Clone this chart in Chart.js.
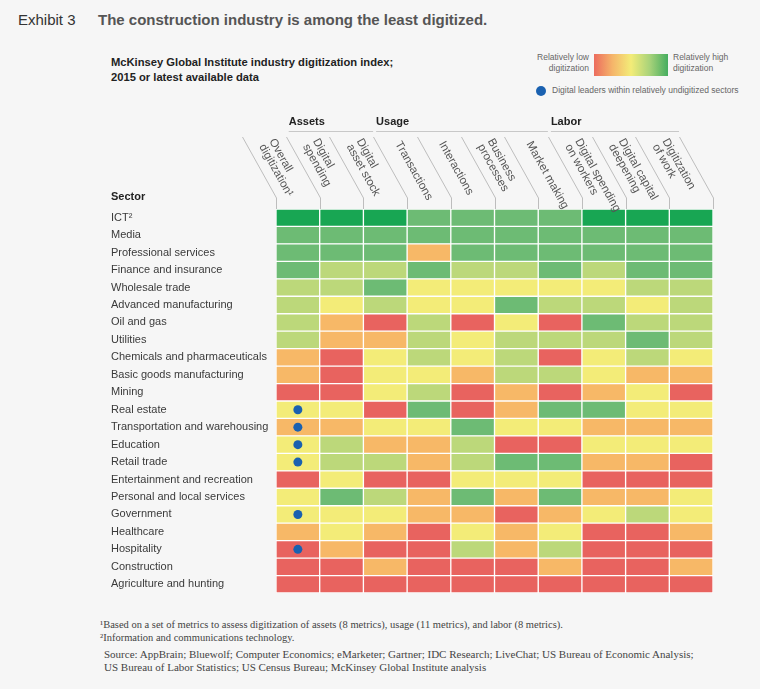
<!DOCTYPE html>
<html>
<head>
<meta charset="utf-8">
<script src="https://cdn.jsdelivr.net/npm/chart.js@4.4.1/dist/chart.umd.min.js"></script>
<style>
  html, body { margin: 0; padding: 0; }
  body { width: 760px; height: 689px; background: #f6f6f6; position: relative; overflow: hidden;
         font-family: "Liberation Sans", Arial, sans-serif; color: #333; }
  .abs { position: absolute; white-space: nowrap; }
  #exhibit { left: 18px; top: 11px; font-size: 15px; color: #333; }
  #titulo { left: 98px; top: 11px; font-size: 15px; font-weight: bold; color: #555; }
  #sub { left: 111px; top: 55px; font-size: 11.2px; font-weight: bold; line-height: 15px; color: #222; }
  .leg { font-size: 8.5px; color: #666; line-height: 11px; }
  #legLow { right: 171px; top: 52px; text-align: right; }
  #legHigh { left: 673px; top: 52px; }
  #grad { left: 594px; top: 54px; width: 74px; height: 22px;
          background: linear-gradient(to right, #ec6c5e, #f5b56a 25%, #f3ec78 50%, #a9d37a 75%, #45ad5f); }
  #dotLeg { left: 536px; top: 86px; width: 10px; height: 10px; border-radius: 50%; background: #1a61b0; }
  #dotTxt { left: 552px; top: 85px; }
  .foot { font-family: "Liberation Serif", "DejaVu Serif", serif; color: #444; line-height: 13px; }
  #notas { left: 100px; top: 618px; font-size: 10.5px; }
  #fuente { left: 104px; top: 648px; font-size: 11px; }
  #grafico { position: absolute; left: 0; top: 0; }
</style>
</head>
<body>
<div class="abs" id="exhibit">Exhibit 3</div>
<div class="abs" id="titulo">The construction industry is among the least digitized.</div>
<div class="abs" id="sub">McKinsey Global Institute industry digitization index;<br>2015 or latest available data</div>
<div class="abs leg" id="legLow">Relatively low<br>digitization</div>
<div class="abs" id="grad"></div>
<div class="abs leg" id="legHigh">Relatively high<br>digitization</div>
<div class="abs" id="dotLeg"></div>
<div class="abs leg" id="dotTxt">Digital leaders within relatively undigitized sectors</div>
<div class="abs foot" id="notas">¹Based on a set of metrics to assess digitization of assets (8 metrics), usage (11 metrics), and labor (8 metrics).<br>²Information and communications technology.</div>
<div class="abs foot" id="fuente">Source: AppBrain; Bluewolf; Computer Economics; eMarketer; Gartner; IDC Research; LiveChat; US Bureau of Economic Analysis;<br>US Bureau of Labor Statistics; US Census Bureau; McKinsey Global Institute analysis</div>
<canvas id="grafico" width="760" height="689"></canvas>

<script>
// Sectors (rows, top to bottom)
const sectors = [
  'ICT²', 'Media', 'Professional services', 'Finance and insurance', 'Wholesale trade',
  'Advanced manufacturing', 'Oil and gas', 'Utilities', 'Chemicals and pharmaceuticals',
  'Basic goods manufacturing', 'Mining', 'Real estate', 'Transportation and warehousing',
  'Education', 'Retail trade', 'Entertainment and recreation', 'Personal and local services',
  'Government', 'Healthcare', 'Hospitality', 'Construction', 'Agriculture and hunting'
];

// Metric columns (slanted headers, one entry per text line)
const columnLabels = [
  ['Overall', 'digitization¹'], ['Digital', 'spending'], ['Digital', 'asset stock'],
  ['Transactions'], ['Interactions'], ['Business', 'processes'], ['Market making'],
  ['Digital spending', 'on workers'], ['Digital capital', 'deepening'], ['Digitization', 'of work']
];

// Column groups
const groupNames = ['Assets', 'Usage', 'Labor'];
const groupStart = [1, 3, 7];
const groupEnd = [3, 7, 10];

// Digitization level per cell: 0 = relatively low ... 5 = relatively high
const scores = [
  [5, 5, 5, 4, 4, 4, 4, 5, 5, 5],
  [4, 4, 4, 4, 4, 4, 4, 4, 4, 4],
  [4, 4, 4, 1, 4, 4, 4, 4, 4, 4],
  [4, 3, 3, 4, 3, 3, 4, 3, 4, 4],
  [3, 3, 4, 2, 2, 2, 2, 2, 3, 3],
  [3, 2, 3, 2, 2, 4, 3, 3, 2, 3],
  [3, 1, 0, 3, 0, 2, 0, 4, 3, 3],
  [3, 1, 1, 3, 2, 3, 3, 3, 4, 3],
  [1, 0, 2, 3, 2, 3, 0, 2, 3, 2],
  [1, 0, 2, 2, 1, 3, 3, 2, 1, 1],
  [0, 0, 2, 3, 0, 1, 0, 1, 2, 0],
  [2, 2, 0, 4, 0, 1, 4, 4, 2, 2],
  [1, 1, 2, 2, 4, 2, 2, 1, 1, 1],
  [2, 3, 1, 1, 3, 0, 0, 2, 2, 2],
  [2, 3, 3, 1, 3, 4, 4, 1, 1, 0],
  [0, 2, 0, 0, 2, 2, 2, 0, 0, 0],
  [2, 4, 3, 1, 4, 1, 4, 1, 1, 2],
  [2, 2, 2, 1, 1, 0, 1, 2, 3, 2],
  [1, 2, 1, 0, 2, 1, 2, 0, 0, 1],
  [0, 1, 0, 0, 3, 1, 3, 0, 0, 0],
  [0, 0, 1, 0, 0, 0, 1, 0, 0, 1],
  [0, 0, 0, 0, 0, 0, 0, 0, 0, 0]
];

// Sectors marked with a blue dot
const digitalLeaders = ['Real estate', 'Transportation and warehousing', 'Education',
  'Retail trade', 'Government', 'Hospitality'];

const levelColors = ['#e8635f', '#f7b867', '#f3ec78', '#bcd87a', '#6dbb74', '#18a653'];

const shift = 34;     // horizontal run of the slanted header lines
const headerTop = 137;

// Headers, group labels and dots, placed with the chart scales
const cabeceras = {
  id: 'cabeceras',
  afterDraw(chart) {
    const { ctx, chartArea, scales: { x, y } } = chart;
    const slantBottom = chartArea.top - 11;
    const angle = Math.atan2(slantBottom - headerTop, shift);
    ctx.save();

    // slanted separators
    ctx.strokeStyle = '#bdbdbd';
    ctx.lineWidth = 1;
    for (let k = 0; k <= columnLabels.length; k++) {
      const bx = Math.round(x.getPixelForValue(k)) + 0.5;
      ctx.beginPath();
      ctx.moveTo(bx - shift, headerTop);
      ctx.lineTo(bx, slantBottom);
      ctx.lineTo(bx, chartArea.top);
      ctx.stroke();
    }

    // column labels
    ctx.fillStyle = '#555';
    ctx.font = '11.5px "Liberation Sans", Arial, sans-serif';
    ctx.textAlign = 'left';
    ctx.textBaseline = 'middle';
    columnLabels.forEach((lines, k) => {
      const cx = (x.getPixelForValue(k) + x.getPixelForValue(k + 1)) / 2 - shift;
      ctx.save();
      ctx.translate(cx, headerTop);
      ctx.rotate(angle);
      lines.forEach((t, i) => ctx.fillText(t, 6, (i - (lines.length - 1) / 2) * 11.5));
      ctx.restore();
    });

    // group labels
    ctx.font = 'bold 11px "Liberation Sans", Arial, sans-serif';
    ctx.fillStyle = '#222';
    ctx.strokeStyle = '#c8c8c8';
    groupNames.forEach((g, i) => {
      const x0 = x.getPixelForValue(groupStart[i]) - shift + 3;
      const x1 = x.getPixelForValue(groupEnd[i]) - shift;
      ctx.fillText(g, x0, 122);
      ctx.beginPath();
      ctx.moveTo(x0, 131.5);
      ctx.lineTo(x1, 131.5);
      ctx.stroke();
    });

    // row header
    ctx.fillText('Sector', y.left, chartArea.top - 12);

    // digital leader dots
    ctx.fillStyle = '#1a61b0';
    digitalLeaders.forEach(s => {
      ctx.beginPath();
      ctx.arc(x.getPixelForValue(0.5), y.getPixelForValue(sectors.indexOf(s)), 4.5, 0, Math.PI * 2);
      ctx.fill();
    });
    ctx.restore();
  }
};

// One stacked dataset per column, each cell a unit bar
const datasets = columnLabels.map((lines, c) => ({
  label: lines.join(' '),
  data: sectors.map(() => 1),
  backgroundColor: scores.map(row => levelColors[row[c]]),
  borderColor: '#ffffff',
  borderWidth: 1,
  borderSkipped: false,
  categoryPercentage: 1,
  barPercentage: 1
}));

new Chart(document.getElementById('grafico'), {
  type: 'bar',
  data: { labels: sectors, datasets: datasets },
  options: {
    indexAxis: 'y',
    responsive: false,
    animation: false,
    layout: { padding: { left: 111, right: 47, top: 209, bottom: 96 } },
    plugins: { legend: { display: false }, tooltip: { enabled: false } },
    scales: {
      x: { stacked: true, min: 0, max: 10, display: false },
      y: {
        stacked: true,
        grid: { display: false },
        border: { display: false },
        ticks: {
          crossAlign: 'far',
          padding: 0,
          color: '#3a3a3a',
          font: { family: '"Liberation Sans", Arial, sans-serif', size: 11 }
        },
        afterFit: scale => { scale.width = 165; }
      }
    }
  },
  plugins: [cabeceras]
});
</script>
</body>
</html>
